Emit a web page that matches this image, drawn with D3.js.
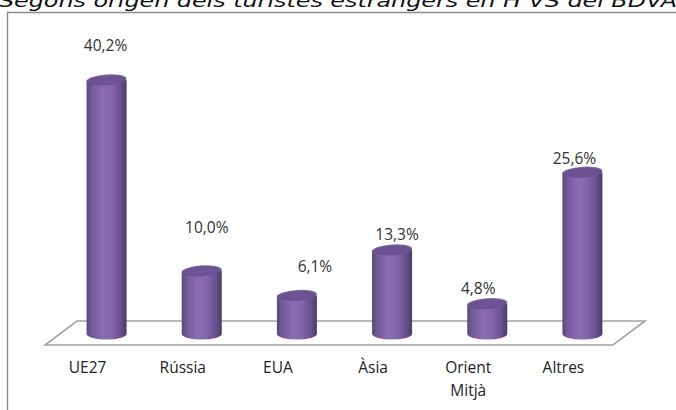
<!DOCTYPE html>
<html>
<head>
<meta charset="utf-8">
<script src="https://cdn.jsdelivr.net/npm/d3@7"></script>
<style>
  html, body { margin: 0; padding: 0; background: #fff; }
  svg { display: block; }
</style>
</head>
<body>
<svg id="chart" width="676" height="410"></svg>
<script>
// Tourists by origin (share of foreign tourists, %)
const categories = ["UE27", "Rússia", "EUA", "Àsia", "Orient Mitjà", "Altres"];
const values = [40.2, 10.0, 6.1, 13.3, 4.8, 25.6];
const valueLabels = ["40,2%", "10,0%", "6,1%", "13,3%", "4,8%", "25,6%"];
const titleText = "Segons origen dels turistes estrangers en H VS del BDVA.";

// Layout of the 3D-style plot
const floorFront = { x0: 40, x1: 611, y: 345 };
const floorDepth = { dx: 32, dy: -24 };
const barShift = 19;          // columns sit halfway into the floor depth
const barBase = 334;
const barRx = 20, barRy = 5.5;
const pxPerUnit = 6.32;
// small per-label nudges applied by the 3D label placement
const labelNudge = [[-1, -28.5], [5, -38], [18, -23.5], [5, -10], [-9, -10], [-8, -8]];

const svg = d3.select("#chart");
const defs = svg.append("defs");

const bodyGrad = defs.append("linearGradient").attr("id", "cylBody")
  .attr("x1", "0%").attr("x2", "100%").attr("y1", "0%").attr("y2", "0%");
[[0, "#5a4479"], [0.12, "#745998"], [0.4, "#8a6db2"], [0.62, "#8366aa"], [0.85, "#6a5190"], [1, "#4c3968"]]
  .forEach(([o, c]) => bodyGrad.append("stop").attr("offset", o).attr("stop-color", c));

const capGrad = defs.append("radialGradient").attr("id", "cylTop")
  .attr("cx", "50%").attr("cy", "60%").attr("r", "60%");
capGrad.append("stop").attr("offset", 0).attr("stop-color", "#6e5595");
capGrad.append("stop").attr("offset", 0.75).attr("stop-color", "#6a5190");
capGrad.append("stop").attr("offset", 1).attr("stop-color", "#8f76b3");

// Title (runs off the top edge)
svg.append("text")
  .attr("x", -1).attr("y", 6.5)
  .attr("textLength", 686).attr("lengthAdjust", "spacingAndGlyphs")
  .style("font-family", "'DejaVu Sans', sans-serif")
  .style("font-style", "italic")
  .style("font-size", "18px")
  .style("fill", "#111")
  .text(titleText);

// Chart frame
svg.append("path")
  .attr("d", "M7.5,420 L7.5,12.5 L690,12.5")
  .attr("fill", "none").attr("stroke", "#8a8a8a").attr("stroke-width", 1.4);

// Scales
const x = d3.scaleBand().domain(categories)
  .range([floorFront.x0, floorFront.x1]).padding(0);
const y = d3.scaleLinear().domain([0, 45]).range([barBase, barBase - 45 * pxPerUnit]);

// Floor
const f = floorFront, d = floorDepth;
svg.append("path")
  .attr("d", `M${f.x0 + 5},${f.y} L${f.x1 + 2},${f.y} L${f.x1 + 2 + d.dx},${f.y + d.dy} L${f.x0 + 5 + d.dx},${f.y + d.dy} Z`)
  .attr("fill", "#fff").attr("stroke", "#a3a3a3").attr("stroke-width", 1.6);

// Columns
const cx = c => x(c) + x.bandwidth() / 2 + barShift;
const bars = svg.append("g").selectAll("g").data(categories).join("g");

bars.append("path")
  .attr("d", (c, i) => {
    const l = cx(c) - barRx, r = cx(c) + barRx, t = y(values[i]);
    return `M${l},${t} L${l},${barBase} A${barRx},${barRy} 0 0 0 ${r},${barBase} L${r},${t} Z`;
  })
  .attr("fill", "url(#cylBody)");

bars.append("ellipse")
  .attr("cx", c => cx(c)).attr("cy", (c, i) => y(values[i]))
  .attr("rx", barRx).attr("ry", barRy)
  .attr("transform", (c, i) => `rotate(-4 ${cx(c)} ${y(values[i])})`)
  .attr("fill", "url(#cylTop)");

// Value labels
svg.append("g").selectAll("text").data(categories).join("text")
  .attr("x", (c, i) => cx(c) + labelNudge[i][0])
  .attr("y", (c, i) => y(values[i]) + labelNudge[i][1])
  .attr("text-anchor", "middle")
  .style("font-family", "'Open Sans', sans-serif")
  .style("font-size", "15.5px")
  .style("fill", "#333")
  .text((c, i) => valueLabels[i]);

// Category labels (wrapped on spaces)
svg.append("g").selectAll("text").data(categories).join("text")
  .attr("text-anchor", "middle")
  .attr("x", c => x(c) + x.bandwidth() / 2)
  .attr("y", 373)
  .style("font-family", "'Open Sans', sans-serif")
  .style("font-size", "15.5px")
  .style("fill", "#222")
  .each(function (c) {
    const words = c.split(" ");
    d3.select(this).selectAll("tspan").data(words).join("tspan")
      .attr("x", x(c) + x.bandwidth() / 2)
      .attr("dy", (w, j) => j === 0 ? 0 : "1.5em")
      .text(w => w);
  });
</script>
</body>
</html>
